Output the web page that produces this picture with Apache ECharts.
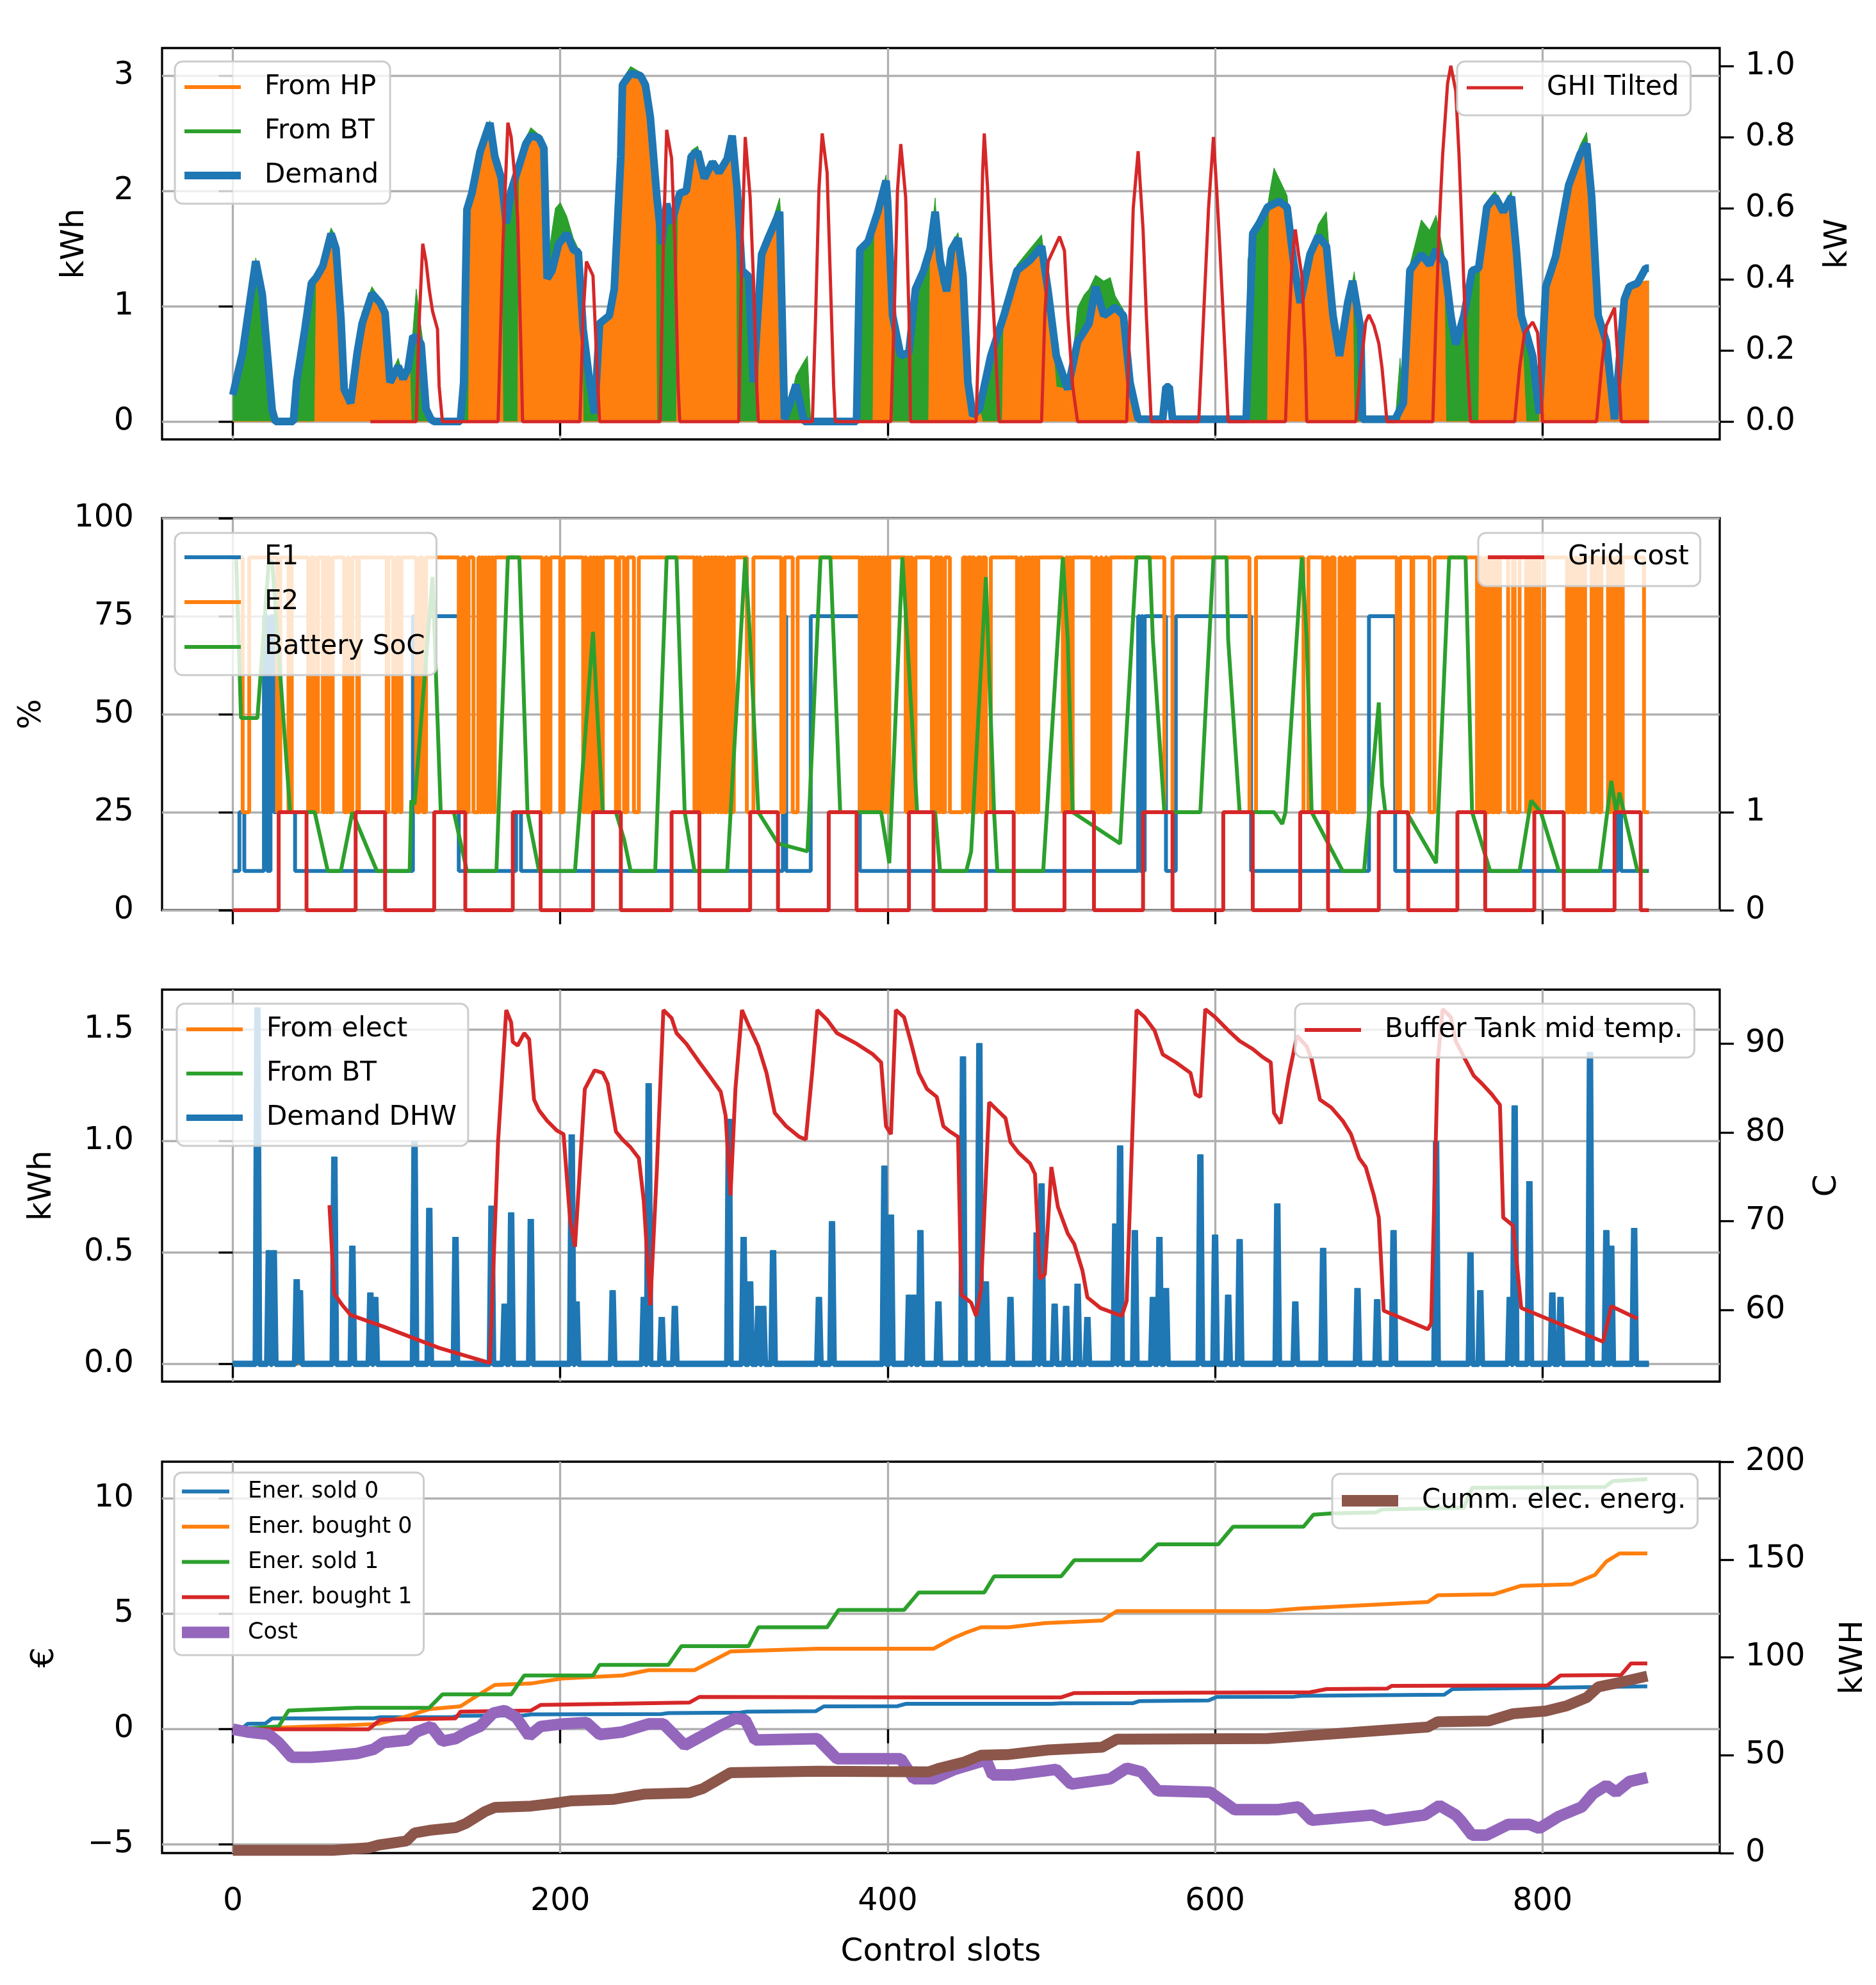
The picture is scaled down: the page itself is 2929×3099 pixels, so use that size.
<!DOCTYPE html>
<html><head><meta charset="utf-8">
<script src="https://cdn.jsdelivr.net/npm/echarts/dist/echarts.min.js"></script>
<style>html,body{margin:0;padding:0;background:#fff}#c{width:2929px;height:3099px}</style>
</head><body><div id="c"></div>
<script>
// ---------------- Panel 1: heat supply vs demand ----------------
const topSlots = [0,6,10,14,18,21,24,26,37,39, 44,48,50,51,55,60,63,66,68,72, 76,79,85,90,93,96,101,104,107,108,
 109,112,116,118,121,123,139,141,142,144, 145,151,157,160,164,165,167,170,174,175, 179,182,187,190,191,192,195,197,200,204,
 208,211,213,214,218,221,223,224,230,233, 236,238,243,249,252,255,258,259,262,265, 268,271,272,277,280,284,288,293,297,302,
 305,307,308,311,315,318,321,322,327,334, 336,337,340,344,348,351,353,381,383,388, 391,392,394,399,400,402,403,408,413,417,
 422,425,426,429,432,436,439,443,446,449, 452,456,458,462,466,470,471,479,487,494, 498,500,503,510,513,516,520,523,527,532,
 536,539,544,548,553,619,620,623,627,632, 633,636,639,644,648,652,658,663,668,672, 676,681,684,685,689,690,710,713,715,719,
 726,731,735,740,741,744,747,752,757,761, 762,766,771,776,781,784,787,790,794,798, 799,802,808,816,823,827,830,834,838,841,
 844,850,853,858,863,865];
const fromHP = [0,0,0,0,0,0,0,0,0,0, 0,0,0,1.25,1.38,1.6,1.55,0.9,0.28,0.16, 0.6,0.85,1.05,1.0,0.9,0.34,0.45,0.35,0.42,0.5,
 0,0,0,0,0,0,0,0,0,0, 1.95,2.34,2.59,2.3,2.1,0,0,0,0,2.2, 2.41,2.48,2.46,2.37,1.5,1.24,1.31,1.35,1.5,1.63,
 1.49,1.45,1.2,0,0,0,0,0.85,0.92,1.15, 2.0,2.92,3.02,3.0,2.92,2.64,2.1,0,0,0, 0,0,1.98,2.0,2.3,2.34,2.11,2.25,2.16,2.28,
 2.48,2.2,0,0,0,0,0,1.4,1.59,1.82, 1.5,0,0,0,0,0,0,0,0,0, 0,1.72,1.82,2.09,1.9,1.2,0,0,0,0,
 0,0,1.43,1.82,1.2,1.13,1.49,1.59,1.26,0.34, 0.05,0.11,0,0,0,0,0.95,1.31,1.4,1.52, 1.13,0.8,0.3,0.28,0.5,0.69,0.75,0.85,1.17,0.92,
 0.95,0.99,0.92,0.34,0,0,0,0,0,0, 1.86,1.9,1.91,1.86,1.38,1.03,1.45,1.61,1.52,0.92, 0.57,1.03,1.22,0,0,0,0,0,0.16,1.31,
 1.45,1.36,1.49,1.38,0,0,0,0,0,0, 1.4,1.86,1.95,1.82,1.95,1.49,0.92,0,0,0, 0.5,1.17,1.43,2.05,2.32,2.41,1.95,0.92,0.5,0.3,
 0,1.06,1.17,1.2,1.22,1.22];
const fromBT = [0.23,0.6,1.0,1.42,1.1,0.6,0.1,0,0,0.35, 0.8,1.2,1.25,0.02,0.05,0.08,0.05,0.02,0.02,0.05, 0.05,0.1,0.12,0.05,0.05,0.05,0.1,0.05,0.1,0,
 0.6,1.15,0.7,0.11,0.02,0,0,0.3,1.2,1.9, 0,0,0.02,0,0,2.05,1.72,2.0,2.18,0.02, 0.05,0.07,0.03,0,0,0.1,0.35,0.5,0.4,0.15,
 0.1,0.05,0,0.8,0.34,0.07,0.5,0,0,0.1, 0.05,0.05,0.06,0.03,0,0,0,1.95,1.54,1.89, 1.72,1.95,0,0.02,0.05,0.05,0.02,0.02,0.02,0,
 0,0,2.02,1.31,1.26,0.34,1.3,0,0.03,0.12, 0,0.1,0.14,0.4,0.5,0.57,0,0,1.49,1.56, 1.7,0,0.05,0.05,0.05,0,0.92,0.57,0.6,1.15,
 1.31,1.5,0.05,0.12,0.05,0,0.05,0.05,0.03,0, 0,0,0.2,0.57,0.75,0.92,0,0.05,0.1,0.1, 0.05,0.2,0.3,0.05,0.05,0.3,0.35,0.3,0.1,0.3,
 0.3,0.1,0.05,0,0,0,1.4,1.63,1.72,1.86, 0.1,0.3,0.2,0.1,0,0,0,0.1,0.3,0.1, 0,0,0,1.3,0.8,0,0,0.55,0,0.05,
 0.3,0.3,0.3,0.05,1.38,0.92,0.67,0.92,1.31,1.33, 0,0.05,0.05,0.05,0.05,0,0,0.7,0.57,0.07, 0,0,0.05,0.05,0.08,0.1,0.05,0,0.15,0.3,
 0,0,0,0,0,0];
const demandSlots = [0,6,10,14,18,21,24,26,37,39, 44,48,51,55,60,63,66,68,72,76, 79,85,90,93,96,101,104,107,110,113,
 115,118,121,123,139,141,143,146,151,157, 160,164,167,170,174,179,182,187,190,192, 195,199,204,208,211,214,218,221,224,230,
 233,237,238,243,249,252,255,259,262,265, 268,273,277,280,284,288,293,297,302,305, 308,311,315,318,323,327,334,337,340,344,
 349,381,383,388,394,399,400,403,408,413, 417,422,426,429,432,436,439,443,446,449, 452,456,463,471,479,487,494,498,503,510,
 516,523,527,532,539,544,548,553,568,570, 572,574,619,623,627,632,639,644,648,652, 658,663,668,672,676,681,684,689,690,710,
 715,719,726,731,735,740,744,747,752,757, 761,766,771,776,781,784,787,794,798,802, 808,816,823,827,830,834,839,844,850,853,
 858,863,865];
const demand = [0.23,0.6,1.0,1.39,1.1,0.6,0.1,0,0,0.35, 0.8,1.2,1.25,1.35,1.63,1.5,0.9,0.28,0.16,0.6, 0.85,1.11,1.03,0.94,0.34,0.48,0.37,0.46,0.74,0.72,
 0.67,0.11,0.02,0,0,0.34,1.84,1.98,2.34,2.59, 2.3,2.11,1.72,2.0,2.18,2.41,2.48,2.46,2.37,1.24, 1.31,1.54,1.63,1.49,1.47,0.8,0.34,0.07,0.85,0.92,
 1.15,2.3,2.92,3.02,3.0,2.92,2.64,1.95,1.54,1.89, 1.72,1.98,2.0,2.3,2.34,2.11,2.25,2.16,2.28,2.48, 2.02,1.31,1.26,0.34,1.45,1.59,1.82,0.02,0.14,0.32,
 0,0,1.49,1.56,1.82,2.09,1.9,0.92,0.57,0.6, 1.15,1.31,1.5,1.82,1.4,1.13,1.49,1.59,1.26,0.34, 0.05,0.11,0.57,0.92,1.31,1.4,1.52,1.13,0.57,0.28,
 0.69,0.85,1.17,0.92,0.99,0.92,0.34,0.02,0.02,0.3, 0.3,0.02,0.02,1.63,1.72,1.86,1.91,1.86,1.38,1.03, 1.45,1.61,1.52,0.92,0.57,1.03,1.22,0.8,0.02,0.02,
 0.16,1.31,1.45,1.36,1.49,1.38,0.92,0.67,0.92,1.31, 1.33,1.86,1.95,1.82,1.95,1.49,0.92,0.57,0.07,1.17, 1.43,2.05,2.32,2.41,1.95,0.92,0.69,0.02,1.06,1.17,
 1.2,1.33,1.33];
const ghiSlots = [84,112,114,116,118,120,122,125,126,128, 162,165,168,170,172,174,176,177, 212,214,216,220,222,224,
 261,263,265,268,270,272,273, 309,311,313,316,318,320,321, 354,356,358,360,363,365,367,368, 402,404,406,408,411,413,414,
 454,456,458,459,461,463,465,467,468, 494,496,498,501,505,508,510,513,516, 546,548,550,553,556,558,561,
 590,593,596,599,601,603,606,608, 643,645,647,649,651,653,655,656, 686,689,692,694,697,700,702,705,
 733,735,737,739,742,744,747,749,750,753,756, 783,786,789,794,797,799,800, 833,836,839,842,844,845,847,848,865];
const ghi = [0,0,0.3,0.5,0.45,0.37,0.31,0.26,0.1,0, 0,0.5,0.84,0.8,0.7,0.57,0.2,0, 0,0.3,0.45,0.41,0.2,0,
 0,0.5,0.82,0.74,0.5,0.1,0, 0,0.5,0.8,0.63,0.4,0.1,0, 0,0.3,0.65,0.81,0.7,0.4,0.1,0, 0,0.3,0.65,0.78,0.63,0.3,0,
 0,0.3,0.7,0.81,0.66,0.45,0.28,0.1,0, 0,0.3,0.45,0.48,0.52,0.48,0.3,0.1,0, 0,0.3,0.6,0.76,0.54,0.3,0,
 0,0.3,0.6,0.8,0.65,0.48,0.2,0, 0,0.25,0.45,0.54,0.47,0.41,0.2,0, 0,0.15,0.28,0.3,0.27,0.22,0.15,0,
 0,0.3,0.56,0.75,0.95,1.0,0.93,0.75,0.63,0.26,0, 0,0.15,0.25,0.28,0.25,0.1,0, 0,0.15,0.27,0.3,0.32,0.25,0.1,0,0];

// ---------------- Panel 2: states ----------------
const e1Slots = [0,4,7,19,21,23,25,38,110,138,173,176,336,338,353,383,553,554,555,556,557,570,576,622,694,710,846,848,865];
const e1 = [10,25,10,75,10,75,25,10,75,10,25,10,75,10,75,10,75,10,75,10,75,10,75,10,75,10,25,10,10];
const e2LowStart = [6,27,34,46,50,55,57,59,68,71,76,94,98,102,112,116,138,142,147,151,153,155,157,159,189,192,200,
 214,216,219,221,223,225,234,239,245,282,284,286,289,291,293,296,298,300,303,305,314,335,342,
 383,385,387,389,391,393,396,398,400,411,413,415,427,431,433,438,448,451,453,457,460,
 479,482,485,487,489,491,507,510,512,525,528,531,534,569,621,654,666,669,673,677,680,683,711,720,731,
 760,763,766,769,772,779,783,790,794,798,815,818,821,824,830,834,840,843,847,862];
const e2LowEnd = [10,29,36,48,52,56,58,61,70,73,77,95,100,103,114,118,140,144,150,152,154,156,158,160,191,194,202,
 215,218,220,222,224,226,236,241,248,283,285,288,290,292,294,297,299,302,304,306,318,337,345,
 384,386,388,390,392,394,397,399,401,412,414,417,429,432,435,446,449,452,455,458,463,
 481,484,486,488,490,492,509,511,513,527,530,533,536,574,625,657,668,671,676,679,682,685,713,721,734,
 762,765,768,771,774,782,786,792,796,801,817,820,823,826,832,836,842,845,849,865];
const e2High = 90, e2Low = 25;
const socSlots = [2,5,15,22,24,35,50,58,66,73,88,108,109,111,122,127,135,143,161,168,175,180,187,209,220,222,226,234,239,243,
 258,265,271,276,282,302,313,316,321,333,351,359,365,367,371,396,401,409,412,418,429,432,448,451,460,465,467,495,507,510,
 513,542,552,560,562,569,591,599,607,608,615,636,641,643,653,656,659,678,691,700,702,704,717,735,743,753,757,768,786,793,
 799,810,835,842,845,847,858,864];
const soc = [90,49,49,89,89,25,25,10,10,25,10,10,28,27,85,25,25,10,10,90,90,25,10,10,71,55,25,25,18,10,
 10,90,90,25,10,10,90,69,25,17,15,90,90,69,25,25,12,90,69,25,25,10,10,15,85,25,10,10,90,69,
 25,17,90,90,69,25,25,90,90,69,25,25,22,25,90,69,25,10,10,53,32,25,25,12,90,90,25,10,10,28,
 25,10,10,33,25,30,10,10];
const gridSlots = [0,28,45,75,93,123,142,171,188,220,237,268,285,316,333,364,381,413,428,460,477,508,526,556,574,605,623,652,669,700,718,748,765,795,813,844,860,865];
const gridCost = [0,1,0,1,0,1,0,1,0,1,0,1,0,1,0,1,0,1,0,1,0,1,0,1,0,1,0,1,0,1,0,1,0,1,0,1,0,0];

// ---------------- Panel 3: DHW ----------------
const dhwSlots = [15,22,25,39,41,62,73,84,87,111,120,136,158,166,170,182,207,210,232,251,254,262,270,303,312,316,321,324,330,358,366,
 398,402,413,416,420,431,446,456,460,475,491,494,502,509,516,522,539,542,551,562,566,570,591,600,608,615,638,649,666,687,699,709,
 735,756,762,780,783,792,806,811,829,839,842,856];
const dhwPeaks = [1.6,0.51,0.51,0.38,0.33,0.93,0.53,0.32,0.30,1.0,0.70,0.57,0.71,0.27,0.68,0.65,1.03,0.28,0.33,0.3,1.26,0.21,0.26,1.1,0.57,0.37,0.26,0.26,0.51,0.3,0.64,
 0.89,0.67,0.31,0.31,0.6,0.28,1.38,1.44,0.37,0.3,0.59,0.81,0.27,0.26,0.36,0.21,0.63,0.98,0.6,0.3,0.57,0.34,0.94,0.58,0.31,0.56,0.72,0.28,0.52,0.34,0.29,0.6,
 1.0,0.5,0.33,0.3,1.16,0.82,0.32,0.3,1.4,0.6,0.53,0.61];
const electSlots = [22,41,62,111,166,182,232,254,303,358,446,456,491,542,600,709,762,811,839];
const electPeaks = [0.03,0.03,0.03,0.03,0.04,0.03,0.03,0.05,0.03,0.03,0.04,0.04,0.03,0.04,0.03,0.04,0.03,0.03,0.03];
const tempSlots = [59,62,67,72,92,126,157,162,167,170,171,174,178,181,184,187,192,198,202,206,209,212,215,221,226,229,234,238,243,248,
 251,255,259,263,268,271,277,285,291,298,301,302,304,307,311,315,321,326,331,338,346,350,354,357,363,369,381,391,396,399,
 402,405,410,414,419,424,430,434,438,443,445,451,454,457,462,467,472,475,480,487,490,493,496,500,504,510,514,519,522,530,
 543,546,552,557,563,568,576,585,588,591,594,600,608,615,623,629,634,636,640,645,650,656,659,664,671,678,683,688,692,697,
 700,703,730,732,736,739,744,747,752,758,763,769,774,776,782,787,837,842,858];
const tempC = [71.8,61.8,60.5,59.4,58.1,55.7,54.0,78.9,93.8,92.4,90.2,89.8,91.2,90.5,83.7,82.5,81.3,80.2,79.8,70.2,67.1,76,84.9,87,86.7,85.5,80.1,79.2,78.3,77.1,
 72.3,60.5,75.8,93.8,92.9,91.2,90,87.9,86.4,84.6,81.9,78.9,72.9,84.9,93.8,92.1,89.7,86.7,82.2,80.7,79.5,79.2,87,93.8,92.7,91.2,90,88.8,87.9,80.7,
 79.8,93.8,93,90.3,86.7,84.9,84.0,80.7,80.1,79.5,61.7,60.8,59.3,62.3,83.4,82.5,81.6,78.9,77.7,76.5,75.3,63.5,64,76.1,71.6,68.6,67.4,64.4,61.4,60.2,
 59.3,61,93.8,93,91.5,88.8,87.9,86.7,84.3,84,93.9,93,91.5,90.3,89.4,88.5,87.9,82.2,81,86.4,90.9,89.7,88.2,83.7,82.8,81.3,79.8,77.1,76.1,72.9,
 70.4,59.9,57.8,58.5,87.9,93.9,93,90.3,88.5,86.4,85.5,84.3,83.1,70.4,69.5,60.2,56.4,60.4,59];

// ---------------- Panel 4: economics ----------------
const sold0Slots = [0,6,9,20,24,86,90,134,138,178,182,262,266,310,314,356,361,406,411,500,506,550,554,596,601,648,653,740,745,864];
const sold0 = [0,0.05,0.23,0.25,0.47,0.47,0.52,0.52,0.58,0.6,0.64,0.66,0.7,0.72,0.76,0.78,0.99,1.0,1.1,1.1,1.12,1.13,1.22,1.25,1.4,1.41,1.45,1.5,1.74,1.86];
const bought0Slots = [0,70,89,107,120,139,148,160,182,201,238,254,282,304,357,428,440,448,457,474,496,531,540,632,652,684,730,736,770,787,818,832,839,847,864];
const bought0 = [0,0.17,0.23,0.58,0.87,0.99,1.4,1.92,1.98,2.2,2.33,2.56,2.56,3.37,3.49,3.49,3.95,4.19,4.42,4.42,4.6,4.71,5.12,5.12,5.23,5.35,5.52,5.81,5.85,6.22,6.28,6.69,7.27,7.62,7.62];
const sold1Slots = [0,28,34,76,120,128,170,178,220,224,266,274,315,321,363,370,410,419,459,465,506,514,555,565,602,611,654,660,671,698,702,752,757,838,843,864];
const sold1 = [0,0.12,0.81,0.93,0.93,1.51,1.51,2.33,2.33,2.79,2.79,3.6,3.6,4.42,4.42,5.17,5.17,5.93,5.93,6.63,6.63,7.33,7.33,8.02,8.02,8.78,8.78,9.3,9.36,9.4,9.53,9.6,10.47,10.5,10.76,10.84];
const bought1Slots = [0,83,90,136,139,182,188,232,279,285,425,506,514,658,668,705,708,803,811,848,854,864];
const bought1 = [0,0,0.41,0.47,0.76,0.81,1.05,1.1,1.16,1.4,1.38,1.38,1.57,1.6,1.74,1.76,1.88,1.9,2.33,2.35,2.85,2.85];
const costSlots = [0,9,22,28,36,48,59,76,86,92,107,112,121,128,136,143,151,159,166,173,181,188,201,216,224,238,254,263,276,285,
 297,307,313,319,357,369,408,416,428,441,457,460,464,477,503,512,536,546,555,565,597,612,638,651,659,696,704,728,737,747,
 750,757,766,779,792,798,810,824,831,839,845,853,864];
const cost = [0,-0.12,-0.23,-0.58,-1.22,-1.22,-1.16,-1.05,-0.87,-0.58,-0.47,-0.12,0.12,-0.52,-0.41,-0.12,0.12,0.7,0.81,0.52,-0.29,0.12,0.23,0.29,-0.23,-0.12,0.23,0.23,-0.7,-0.35,
 0.12,0.47,0.4,-0.47,-0.41,-1.28,-1.28,-2.15,-2.15,-1.74,-1.4,-1.3,-1.98,-1.98,-1.74,-2.38,-2.15,-1.69,-1.85,-2.67,-2.73,-3.49,-3.49,-3.37,-3.95,-3.72,-3.95,-3.72,-3.31,-3.72,
 -3.95,-4.59,-4.59,-4.13,-4.13,-4.3,-3.78,-3.37,-2.79,-2.44,-2.73,-2.27,-2.09];
const cummSlots = [0,61,83,89,106,111,120,136,142,154,160,182,195,207,232,251,279,287,304,357,425,431,447,457,473,498,531,540,632,684,730,736,767,782,802,815,827,834,846,864];
const cumm = [1.4,1.4,2.7,4.1,6.2,10.3,11.6,13,15,21.2,23.3,24,25.3,26.7,27.4,30.1,30.8,32.9,41.1,41.8,41.5,43.2,46.6,50,50.3,52.7,54.1,58.2,58.5,61.6,64.4,67.1,67.5,71.2,72.6,75.3,79.5,84.9,87,90.4];

// ---------------- Tick labels ----------------
const xTicks = [0,200,400,600,800];
const p1LeftTicks = [0,1,2,3], p1RightTicks = [0,0.2,0.4,0.6,0.8,1.0];
const p2LeftTicks = [0,25,50,75,100], p2RightTicks = [0,1];
const p3LeftTicks = [0,0.5,1.0,1.5], p3RightTicks = [60,70,80,90];
const p4LeftTicks = [-5,0,5,10], p4RightTicks = [0,50,100,150,200];

// ---------------- build ----------------
const F = 'DejaVu Sans';
const C = {blue:'#1f77b4', orange:'#ff7f0e', green:'#2ca02c', red:'#d62728', purple:'#9467bd', brown:'#8c564b'};
const zip = (xs, ys) => xs.map((x, i) => [x, ys[i]]);
// stacked top of the "From BT" band = HP + BT (drawn behind the HP band)
const stackedTop = topSlots.map((x, i) => [x, fromHP[i] + fromBT[i]]);
function spikes(xs, hs) {
  const out = [[0, 0]];
  xs.forEach((x, i) => { out.push([x - 1, 0], [x, hs[i]], [x + 1, 0]); });
  out.push([865, 0]);
  return out;
}
function e2Steps() {
  const out = [[0, e2High]];
  e2LowStart.forEach((s, i) => {
    out.push([s, e2Low]);
    if (e2LowEnd[i] < 865) out.push([e2LowEnd[i], e2High]); else out.push([865, e2Low]);
  });
  return out;
}
const grids = [
  {left:253, top:75, width:2432, height:611},
  {left:253, top:809, width:2432, height:612},
  {left:253, top:1545, width:2432, height:612},
  {left:253, top:2282, width:2432, height:611}
].map(g => Object.assign(g, {show:true, borderColor:'#000', borderWidth:3.3, backgroundColor:'rgba(0,0,0,0)', containLabel:false}));

const tickStyle = {color:'#000', width:3.3};
function xAx(gi) {
  const last = gi === 3;
  return {type:'value', gridIndex:gi, min:-43.25, max:908.25,
    axisLine:{show:false},
    axisTick:{show:true, length:22, lineStyle:tickStyle, customValues:xTicks},
    axisLabel:{show:last, customValues:xTicks, margin:52, fontSize:49, color:'#000', fontFamily:F},
    splitLine:{show:true, lineStyle:{color:'#b0b0b0', width:3.3}},
    name: last ? 'Control slots' : '', nameLocation:'middle', nameGap:130,
    nameTextStyle:{fontSize:50, color:'#000', fontFamily:F}};
}
function yAx(gi, pos, min, max, ticks, fmt, name, gap, split) {
  return {type:'value', gridIndex:gi, position:pos, min:min, max:max,
    axisLine:{show:false},
    axisTick:{show:true, length:22, lineStyle:tickStyle, customValues:ticks},
    axisLabel:{customValues:ticks, margin: pos === 'left' ? 44 : 40, fontSize:49, color:'#000', fontFamily:F, formatter:fmt},
    splitLine:{show:split, lineStyle:{color:'#b0b0b0', width:3.3}},
    name:name, nameLocation:'middle', nameGap:gap, nameRotate:90,
    nameTextStyle:{fontSize:50, color:'#000', fontFamily:F}};
}
const f1 = v => v.toFixed(1);
const f0 = v => String(v).replace('-', '\u2212');

function icon(W, H, L, t) {
  const y0 = (H - t) / 2, y1 = y0 + t;
  return `path://M0,0M${W},${H}M0,${y0}L${L},${y0}L${L},${y1}L0,${y1}Z`;
}
function legend(left, top, items, opts) {
  const o = Object.assign({font:42, W:120, L:88, gap:27, pad:[19,18,23,15]}, opts || {});
  return {orient:'vertical', left:left, top:top, padding:o.pad, itemGap:o.gap,
    itemWidth:o.W, itemHeight:24, selectedMode:false,
    backgroundColor:'rgba(255,255,255,0.8)', borderColor:'#cccccc', borderWidth:3, borderRadius:12,
    textStyle:{fontSize:o.font, lineHeight:o.font, color:'#000', fontFamily:F},
    data: items.map(it => ({name:it[0], icon:icon(o.W, 24, o.L, it[2]), itemStyle:{color:it[1], borderWidth:0}}))};
}
function line(name, gi, yi, data, color, width, extra) {
  return Object.assign({type:'line', name:name, xAxisIndex:gi, yAxisIndex:yi, data:data,
    symbol:'none', showSymbol:false, animation:false, silent:true,
    lineStyle:{color:color, width:width}, itemStyle:{color:color}}, extra || {});
}

const option = {
  backgroundColor:'#fff', animation:false,
  textStyle:{fontFamily:F},
  grid: grids,
  xAxis: [xAx(0), xAx(1), xAx(2), xAx(3)],
  yAxis: [
    yAx(0,'left',-0.155,3.24,p1LeftTicks,f0,'kWh',111,true),
    yAx(0,'right',-0.05,1.05,p1RightTicks,f1,'kW',160,false),
    yAx(1,'left',0,100,p2LeftTicks,f0,'%',178,true),
    yAx(1,'right',0,4,p2RightTicks,f0,'',40,false),
    yAx(2,'left',-0.08,1.68,p3LeftTicks,f1,'kWh',162,true),
    yAx(2,'right',51.9,96.1,p3RightTicks,f0,'C',143,false),
    yAx(3,'left',-5.37,11.6,p4LeftTicks,f0,'\u20ac',158,true),
    yAx(3,'right',0,200,p4RightTicks,f0,'kWH',184,false)
  ],
  legend: [
    legend(273, 96, [['From HP',C.orange,6],['From BT',C.green,6],['Demand',C.blue,12]]),
    legend(2275, 96, [['GHI Tilted',C.red,5]], {pad:[20,18,22,15]}),
    legend(273, 832, [['E1',C.blue,6],['E2',C.orange,6],['Battery SoC',C.green,6]], {gap:28, pad:[17,18,23,15]}),
    legend(2308, 832, [['Grid cost',C.red,6]], {pad:[17,18,24,15]}),
    legend(276, 1567, [['From elect',C.orange,6],['From BT',C.green,6],['Demand DHW',C.blue,10]], {pad:[19,18,23,15]}),
    legend(2022, 1567, [['Buffer Tank mid temp.',C.red,6]], {pad:[20,18,22,15]}),
    legend(272, 2299, [['Ener. sold 0',C.blue,6],['Ener. bought 0',C.orange,6],['Ener. sold 1',C.green,6],['Ener. bought 1',C.red,6],['Cost',C.purple,18]],
      {font:35, W:98, L:74, gap:20, pad:[12,18,18,12]}),
    legend(2080, 2301, [['Cumm. elec. energ.',C.brown,18]], {pad:[21,18,22,15]})
  ],
  series: [
    line('From BT',0,0,stackedTop,C.green,1,{areaStyle:{color:C.green, opacity:1}}),
    line('From HP',0,0,zip(topSlots,fromHP),C.orange,1,{areaStyle:{color:C.orange, opacity:1}}),
    line('Demand',0,0,zip(demandSlots,demand),C.blue,12),
    line('GHI Tilted',0,1,zip(ghiSlots,ghi),C.red,5),

    line('E1',1,2,zip(e1Slots,e1),C.blue,6,{step:'end'}),
    line('E2',1,2,e2Steps(),C.orange,6,{step:'end'}),
    line('Battery SoC',1,2,zip(socSlots,soc),C.green,6),
    line('Grid cost',1,3,zip(gridSlots,gridCost),C.red,6,{step:'end'}),

    line('From elect',2,4,spikes(electSlots,electPeaks),C.orange,6),
    line('From BT',2,4,spikes(dhwSlots,dhwPeaks),C.green,6),
    line('Demand DHW',2,4,spikes(dhwSlots,dhwPeaks),C.blue,10),
    line('Buffer Tank mid temp.',2,5,zip(tempSlots,tempC),C.red,6),

    line('Ener. sold 0',3,6,zip(sold0Slots,sold0),C.blue,6),
    line('Ener. bought 0',3,6,zip(bought0Slots,bought0),C.orange,6),
    line('Ener. sold 1',3,6,zip(sold1Slots,sold1),C.green,6),
    line('Ener. bought 1',3,6,zip(bought1Slots,bought1),C.red,6),
    line('Cost',3,6,zip(costSlots,cost),C.purple,18),
    line('Cumm. elec. energ.',3,7,zip(cummSlots,cumm),C.brown,17)
  ]
};
const chart = echarts.init(document.getElementById('c'), null, {renderer:'canvas', width:2929, height:3099});
chart.setOption(option);
</script></body></html>
